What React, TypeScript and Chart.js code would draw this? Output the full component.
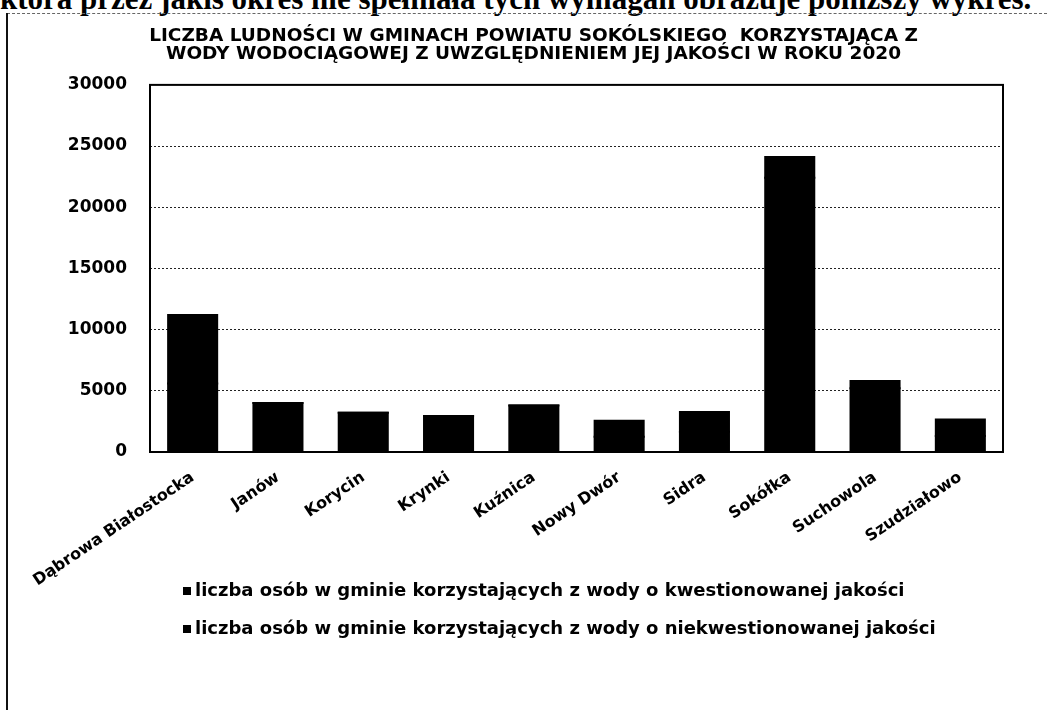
import React, { useEffect, useRef } from "react";
import { Chart, registerables } from "chart.js";

Chart.register(...registerables);

// ---- data ----
const categories = [
  "Dąbrowa Białostocka",
  "Janów",
  "Korycin",
  "Krynki",
  "Kuźnica",
  "Nowy Dwór",
  "Sidra",
  "Sokółka",
  "Suchowola",
  "Szudziałowo",
];
const questionedQuality = [5600, 4000, 3200, 2950, 3800, 1250, 1650, 22415, 5200, 1300];
const unquestionedQuality = [5600, 0, 0, 0, 0, 1300, 1620, 1700, 600, 1350];
const seriesNames = [
  "liczba osób w gminie korzystających z wody o kwestionowanej jakości",
  "liczba osób w gminie korzystających z wody o niekwestionowanej jakości",
];
const titleLines = [
  "LICZBA LUDNOŚCI W GMINACH POWIATU SOKÓLSKIEGO  KORZYSTAJĄCA Z",
  "WODY WODOCIĄGOWEJ Z UWZGLĘDNIENIEM JEJ JAKOŚCI W ROKU 2020",
];
const yMin = 0;
const yMax = 30000;
const yStep = 5000;
const pageHeading = "która przez jakiś okres nie spełniała tych wymagań obrazuje poniższy wykres.";

const W = 1051;
const H = 710;

const plotFramePlugin = {
  id: "plotFrame",
  afterDatasetsDraw(chart: any) {
    const { ctx, chartArea } = chart;
    ctx.save();
    ctx.strokeStyle = "#000";
    ctx.lineWidth = 2;
    ctx.setLineDash([]);
    ctx.strokeRect(chartArea.left, chartArea.top, chartArea.right - chartArea.left, chartArea.bottom - chartArea.top);
    ctx.restore();
  },
};

const manualLegendPlugin = {
  id: "manualLegend",
  afterDraw(chart: any) {
    const { ctx } = chart;
    const rows = [591, 629];
    ctx.save();
    chart.data.datasets.forEach((ds: any, i: number) => {
      const y = rows[i];
      ctx.fillStyle = ds.backgroundColor;
      ctx.fillRect(183, y - 4, 8, 8);
      ctx.fillStyle = "#000";
      ctx.font = "bold 18px 'DejaVu Sans'";
      ctx.textBaseline = "middle";
      ctx.textAlign = "left";
      ctx.fillText(ds.label, 195, y);
    });
    ctx.restore();
  },
};

export default function App() {
  const canvasRef = useRef<HTMLCanvasElement | null>(null);

  useEffect(() => {
    document.body.style.margin = "0";
    document.body.style.overflow = "hidden";
    const canvas = canvasRef.current;
    if (!canvas) return;
    const chart = new Chart(canvas, {
      type: "bar",
      data: {
        labels: categories,
        datasets: [
          {
            label: seriesNames[0],
            data: questionedQuality,
            backgroundColor: "#000000",
            borderWidth: 0,
            inflateAmount: 1,
            barPercentage: 0.575,
            categoryPercentage: 1,
          },
          {
            label: seriesNames[1],
            data: unquestionedQuality,
            backgroundColor: "#000000",
            borderWidth: 0,
            inflateAmount: 1,
            barPercentage: 0.575,
            categoryPercentage: 1,
          },
        ],
      },
      options: {
        responsive: false,
        animation: false,
        devicePixelRatio: 1,
        layout: { padding: { left: 64, right: 48, top: 0, bottom: 118 } },
        plugins: {
          legend: { display: false },
          tooltip: { enabled: false },
          title: {
            display: true,
            text: titleLines,
            color: "#000",
            font: { family: "'DejaVu Sans'", size: 18.5, weight: "bold", lineHeight: 0.97 },
            padding: { top: 27, bottom: 22 },
          },
        },
        scales: {
          x: {
            stacked: true,
            grid: { display: false, drawTicks: false },
            border: { display: false },
            ticks: {
              color: "#000",
              font: { family: "'DejaVu Sans'", size: 16, weight: "bold" },
              minRotation: 34,
              maxRotation: 34,
              autoSkip: false,
              padding: 16,
            },
            afterFit(axis: any) {
              axis.height = 140;
            },
          },
          y: {
            stacked: true,
            min: yMin,
            max: yMax,
            ticks: {
              stepSize: yStep,
              color: "#000",
              font: { family: "'DejaVu Sans'", size: 17, weight: "bold" },
              padding: 23,
              callback: (v: any) => String(v),
            },
            grid: { color: "#222", lineWidth: 1, drawTicks: false },
            border: { display: false, dash: [2, 2] },
            afterFit(axis: any) {
              axis.width = 86;
            },
          },
        },
      },
      plugins: [plotFramePlugin, manualLegendPlugin],
    } as any);
    return () => chart.destroy();
  }, []);

  return (
    <div style={{ position: "relative", width: W, height: H, overflow: "hidden", background: "#fff" }}>
      <div
        style={{
          position: "absolute",
          left: 0,
          top: -17,
          whiteSpace: "nowrap",
          fontFamily: "'Liberation Serif', serif",
          fontWeight: "bold",
          fontSize: 31,
          lineHeight: "31px",
          color: "#000",
        }}
      >
        {pageHeading}
      </div>
      <div
        style={{
          position: "absolute",
          left: 7,
          top: 13,
          width: 1040,
          height: 0,
          borderTop: "1px dashed #666",
        }}
      />
      <canvas ref={canvasRef} width={W} height={H} style={{ position: "absolute", left: 0, top: 0 }} />
      <div
        style={{
          position: "absolute",
          left: 6,
          top: 13,
          width: 0,
          height: H - 13,
          borderLeft: "2px solid #111",
        }}
      />
    </div>
  );
}
